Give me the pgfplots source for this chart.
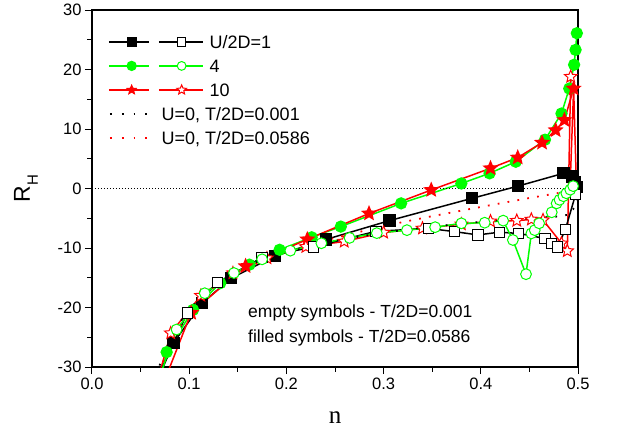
\documentclass[border=0pt]{standalone}
\usepackage{fontspec}
\setmainfont{Liberation Sans}
\newfontfamily\seriffont{Liberation Serif}
\usepackage{pgfplots}
\pgfplotsset{compat=1.18}
\definecolor{lgreen}{RGB}{0,255,0}
\definecolor{lred}{RGB}{255,0,0}
\pgfdeclareplotmark{pstar}{%
  \pgfpathmoveto{\pgfpointpolar{90}{\pgfplotmarksize}}%
  \pgfpathlineto{\pgfpointpolar{126}{0.45\pgfplotmarksize}}%
  \pgfpathlineto{\pgfpointpolar{162}{\pgfplotmarksize}}%
  \pgfpathlineto{\pgfpointpolar{198}{0.45\pgfplotmarksize}}%
  \pgfpathlineto{\pgfpointpolar{234}{\pgfplotmarksize}}%
  \pgfpathlineto{\pgfpointpolar{270}{0.45\pgfplotmarksize}}%
  \pgfpathlineto{\pgfpointpolar{306}{\pgfplotmarksize}}%
  \pgfpathlineto{\pgfpointpolar{342}{0.45\pgfplotmarksize}}%
  \pgfpathlineto{\pgfpointpolar{18}{\pgfplotmarksize}}%
  \pgfpathlineto{\pgfpointpolar{54}{0.45\pgfplotmarksize}}%
  \pgfpathclose
  \pgfusepathqfillstroke}

\pgfplotstableread{
n R
0.068 -32
0.0837 -26.0
0.113 -19.3
0.143 -15.1
0.188 -11.35
0.241 -8.55
0.306 -5.4
0.391 -1.65
0.4386 0.42
0.485 2.55
0.4935 2.0
0.497 1.1
0.4993 0.3
}\Uonef
\pgfplotstableread{
n R
0.067 -32
0.098 -20.9
0.129 -15.8
0.175 -11.6
0.228 -9.8
0.292 -7.2
0.346 -6.7
0.373 -7.25
0.397 -7.8
0.419 -7.35
0.439 -7.55
0.466 -8.4
0.473 -9.2
0.479 -9.8
0.487 -6.9
0.4975 -1.0
}\Uoneo
\pgfplotstableread{
n R
0.072 -31
0.0768 -27.5
0.104 -20.4
0.132 -15.9
0.162 -12.8
0.193 -10.3
0.226 -8.2
0.256 -6.4
0.318 -2.5
0.380 0.85
0.409 2.55
0.436 4.5
0.466 8.2
0.483 12.6
0.491 16.8
0.496 20.8
0.4975 23.3
0.4988 26.1
}\Ufourf
\pgfplotstableread{
n R
0.072 -30.5
0.087 -23.7
0.116 -17.6
0.146 -14.2
0.175 -11.9
0.204 -10.45
0.236 -9.2
0.265 -8.3
0.293 -7.5
0.324 -7.0
0.353 -6.5
0.380 -5.85
0.404 -5.75
0.423 -5.4
0.433 -8.65
0.4465 -14.4
0.452 -7.55
0.4555 -7.0
0.460 -5.85
0.473 -4.0
0.478 -2.5
0.481 -1.9
0.485 -1.3
0.488 -0.8
0.492 -0.2
0.495 0.4
}\Ufouro
\pgfplotstableread{
n R
0.07 -34.2
0.102 -20.9
0.158 -13.05
0.2215 -8.55
0.285 -4.2
0.349 -0.25
0.410 3.4
0.438 5.2
0.463 7.7
0.477 9.8
0.486 11.5
0.4955 16.8
}\Utenf
\pgfplotstableread{
n R
0.4915 -1.2
0.4955 16.8
0.4985 -0.3
}\Utentail
\pgfplotstableread{
n R
0.068 -32
0.081 -24.3
0.112 -18.0
0.145 -14.2
0.18 -11.7
0.22 -9.8
0.2595 -8.9
0.30 -7.4
0.34 -6.7
0.38 -6.0
0.41 -5.5
0.437 -5.4
0.452 -5.2
0.464 -5.3
0.483 -9.2
0.489 -10.5
0.4925 18.8
}\Uteno
\pgfplotstableread{
n R
0.064 -33
0.07 -29.5
0.08 -25.5
0.09 -22.6
0.1 -20.3
0.12 -17.0
0.15 -13.9
0.2 -10.7
0.25 -8.8
0.3 -7.4
0.35 -6.4
0.4 -5.6
0.43 -5.2
0.46 -4.9
0.48 -4.7
0.49 -4.4
0.495 -3.5
0.499 -1.5
}\Uzeroa
\pgfplotstableread{
n R
0.064 -34
0.07 -30.5
0.08 -26.2
0.1 -20.6
0.12 -17.2
0.15 -13.9
0.2 -10.5
0.25 -8.3
0.3 -6.3
0.35 -4.65
0.4 -3.1
0.45 -1.6
0.48 -0.75
0.49 -0.4
0.5 0
}\Uzerob

\begin{document}
\begin{tikzpicture}
\useasboundingbox (-92pt,-72pt) rectangle (525pt,367pt);
\begin{axis}[
  at={(0pt,0pt)}, anchor=south west,
  scale only axis, width=486pt, height=357pt,
  xmin=0, xmax=0.5, ymin=-30, ymax=30,
  xtick={0,0.1,0.2,0.3,0.4,0.5}, xticklabels={0.0,0.1,0.2,0.3,0.4,0.5},
  minor xtick={0.05,0.15,0.25,0.35,0.45},
  ytick={-30,-20,-10,0,10,20,30}, yticklabels={-30,-20,-10,0,10,20,30},
  minor ytick={-25,-15,-5,5,15,25},
  xtick pos=left, ytick pos=left,
  tick align=outside,
  major tick length=7pt, minor tick length=4.5pt,
  every tick/.style={black, line width=1pt},
  axis line style={line width=1.2pt},
  tick label style={font=\fontsize{16.5}{16.5}\selectfont},
  xlabel={\seriffont n}, ylabel={R\raisebox{-8pt}{\fontsize{15}{15}\selectfont H}},
  every axis x label/.style={at={(axis description cs:0.5,-0.1429)}, anchor=center, font=\fontsize{25}{25}\selectfont},
  every axis y label/.style={at={(axis description cs:-0.136,0.5)}, rotate=90, anchor=center, font=\fontsize{23}{23}\selectfont},
  legend cell align=left,
  legend style={at={(0,1)}, anchor=north west, xshift=16pt, yshift=-25.6pt,
    draw=none, fill=none, inner sep=0pt, row sep=11.8pt, column sep=6pt,
    font=\fontsize{18}{18}\selectfont,
    nodes={inner sep=0pt, text height=12.2pt, text depth=0pt}},
]
% U/2D=1 filled
\addplot[black, line width=1.5pt, mark=square*, mark size=5.4pt, mark options={solid, fill=black},
  legend image code/.code={
    \draw[black, line width=1.5pt] (0pt,0pt) -- (40pt,0pt) (50pt,0pt) -- (94pt,0pt);
    \draw[black] plot[mark=square*, mark size=4.2pt, mark options={fill=black}] coordinates {(22.7pt,0pt)};
    \draw[black] plot[mark=square*, mark size=4.2pt, mark options={fill=white, line width=1pt}] coordinates {(72.7pt,0pt)};
  }] table[x=n, y=R] {\Uonef};
\addlegendentry{U/2D=1}
% U/2D=4 filled
\addplot[lgreen, line width=1.5pt, mark=*, mark size=5.4pt, mark options={solid, fill=lgreen},
  legend image code/.code={
    \draw[lgreen, line width=1.5pt] (0pt,0pt) -- (40pt,0pt) (50pt,0pt) -- (94pt,0pt);
    \draw[lgreen] plot[mark=*, mark size=4.4pt, mark options={fill=lgreen}] coordinates {(22.7pt,0pt)};
    \draw[lgreen] plot[mark=*, mark size=4.4pt, mark options={fill=white, line width=1pt}] coordinates {(72.7pt,0pt)};
  }] table[x=n, y=R] {\Ufourf};
\addlegendentry{4}
% U/2D=10 filled
\addplot[lred, line width=1.5pt, mark=pstar, mark size=6.5pt, mark options={solid, fill=lred},
  legend image code/.code={
    \draw[lred, line width=1.5pt] (0pt,0pt) -- (40pt,0pt) (50pt,0pt) -- (94pt,0pt);
    \draw[lred] plot[mark=pstar, mark size=5pt, mark options={fill=lred, line width=0.8pt}] coordinates {(22.7pt,0pt)};
    \draw[lred] plot[mark=pstar, mark size=5pt, mark options={fill=white, line width=1pt}] coordinates {(72.7pt,0pt)};
  }] table[x=n, y=R] {\Utenf};
\addlegendentry{10}
\addplot[lred, line width=1.5pt, no marks, forget plot] table[x=n, y=R] {\Utentail};
% open symbols
\addplot[lred, line width=1.5pt, mark=pstar, mark size=6.5pt, mark options={solid, fill=white, line width=1pt}, forget plot] table[x=n, y=R] {\Uteno};
\addplot[black, line width=1.5pt, mark=square*, mark size=5.2pt, mark options={solid, fill=white, line width=1pt}, forget plot] table[x=n, y=R] {\Uoneo};
\addplot[lgreen, line width=1.5pt, mark=*, mark size=5.4pt, mark options={solid, fill=white, line width=1pt}, forget plot] table[x=n, y=R] {\Ufouro};
% U=0 curves
\addplot[black, line width=1.8pt, no marks, dash pattern=on 1.8pt off 8.2pt,
  legend image code/.code={\draw[black, line width=1.8pt, dash pattern=on 1.8pt off 10pt] (1pt,0pt) -- (42pt,0pt);}] table[x=n, y=R] {\Uzeroa};
\addlegendentry{\hspace*{-48pt}U=0, T/2D=0.001}
\addplot[lred, line width=1.8pt, no marks, dash pattern=on 1.8pt off 8.2pt,
  legend image code/.code={\draw[lred, line width=1.8pt, dash pattern=on 1.8pt off 10pt] (1pt,0pt) -- (42pt,0pt);}] table[x=n, y=R] {\Uzerob};
\addlegendentry{\hspace*{-48pt}U=0, T/2D=0.0586}
% zero line
\addplot[black, line width=0.8pt, dash pattern=on 0.8pt off 2.2pt, no marks, forget plot] coordinates {(0,0) (0.5,0)};
\node[anchor=base west, inner sep=0pt, font=\fontsize{17.5}{17.5}\selectfont] at (axis cs:0.1605,-21.73) {empty symbols - T/2D=0.001};
\node[anchor=base west, inner sep=0pt, font=\fontsize{17.5}{17.5}\selectfont] at (axis cs:0.1605,-25.93) {filled symbols - T/2D=0.0586};
\end{axis}
\end{tikzpicture}
\end{document}
